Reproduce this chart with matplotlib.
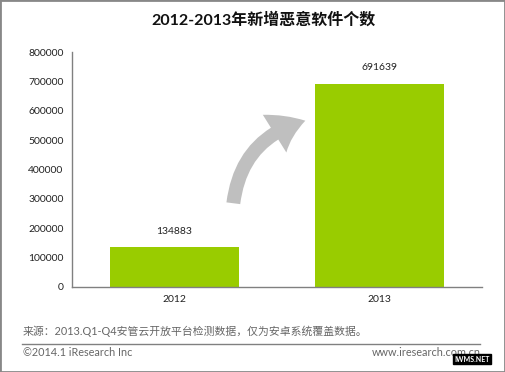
import matplotlib.pyplot as plt
from matplotlib.patches import FancyArrowPatch, Rectangle

plt.rcParams['font.family'] = ['Lato', 'Noto Sans CJK SC', 'DejaVu Sans']

# data
years = ["2012", "2013"]
counts = [134883, 691639]
y_ticks = [0, 100000, 200000, 300000, 400000, 500000, 600000, 700000, 800000]

title = "2012-2013年新增恶意软件个数"
source = "来源：2013.Q1-Q4安管云开放平台检测数据，仅为安卓系统覆盖数据。"
copyright_txt = "©2014.1 iResearch Inc"
site = "www.iresearch.com.cn"

BAR_COLOR = "#99CC00"
AXIS_COLOR = "#808080"
W, H = 505, 372

fig = plt.figure(figsize=(W / 100, H / 100), dpi=100)
fig.patch.set_facecolor("white")

ax = fig.add_axes([72 / W, (H - 287) / H, 410 / W, 235 / H])
x = range(len(years))
ax.bar(x, counts, width=0.625, color=BAR_COLOR, zorder=2)
for xi, v in zip(x, counts):
    ax.text(xi, v + 40000, str(v), ha="center", va="bottom", fontsize=7.5, color="#222222")

ax.set_xlim(-0.5, 1.5)
ax.set_ylim(0, 800000)
ax.set_yticks(y_ticks)
ax.set_yticklabels([str(t) for t in y_ticks], fontsize=7.5, color="#222222")
ax.set_xticks(list(x))
ax.set_xticklabels(years, fontsize=7.5, color="#222222")
ax.tick_params(axis="both", length=0, pad=6)
for s in ["top", "right"]:
    ax.spines[s].set_visible(False)
for s in ["left", "bottom"]:
    ax.spines[s].set_color(AXIS_COLOR)
    ax.spines[s].set_linewidth(1.0)

# title
fig.text(264 / W, 1 - 20 / H, title, ha="center", va="center", fontsize=11.5,
         fontweight="bold", color="#111111")

# curved arrow
arrow = FancyArrowPatch((233, H - 206), (308, H - 120),
                        connectionstyle="arc3,rad=-0.35",
                        arrowstyle="simple,head_length=24,head_width=32,tail_width=10",
                        color="#BFBFBF", lw=0, transform=None, zorder=3)
fig.patches.append(arrow)

# footer
fig.text(23 / W, 1 - 331 / H, source, ha="left", va="center", fontsize=7.8, color="#666666")
fig.add_artist(plt.Line2D([22 / W, 480 / W], [1 - 344 / H, 1 - 344 / H],
                          color=AXIS_COLOR, lw=1, transform=fig.transFigure))
fig.text(23 / W, 1 - 353 / H, copyright_txt, ha="left", va="center", fontsize=7.8, color="#666666")
fig.text(481 / W, 1 - 353 / H, site, ha="right", va="center", fontsize=7.8, color="#666666")
fig.text(472 / W, 1 - 359 / H, "IWMS.NET", ha="center", va="center", fontsize=5,
         fontweight="bold", color="white",
         bbox=dict(boxstyle="square,pad=0.15", fc="black", ec="black"))

# outer border
fig.patches.append(Rectangle((0, 0), 1, 1, transform=fig.transFigure, fill=False,
                             ec="#888888", lw=2))

fig.savefig("out.png", dpi=100)
